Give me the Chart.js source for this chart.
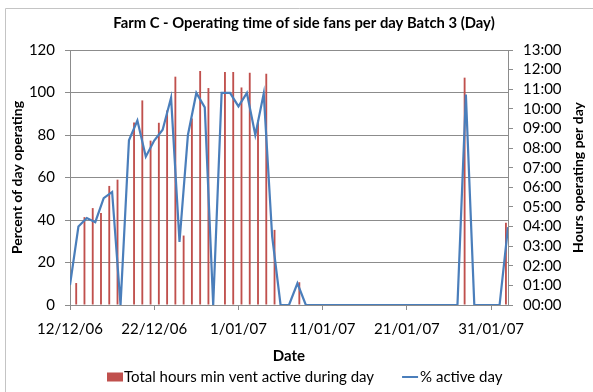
<!DOCTYPE html>
<html>
<head>
<meta charset="utf-8">
<script src="https://cdn.jsdelivr.net/npm/chart.js@4.4.1/dist/chart.umd.min.js"></script>
<style>
  html, body { margin: 0; padding: 0; background: #fff; }
  #wrap { width: 593px; height: 392px; position: relative; }
</style>
</head>
<body>
<div id="wrap"><canvas id="c" width="593" height="392"></canvas></div>
<script>
// Daily records, 12/12/06 to 2/02/07
const dates = [
  '12/12/06','13/12/06','14/12/06','15/12/06','16/12/06','17/12/06','18/12/06','19/12/06','20/12/06','21/12/06',
  '22/12/06','23/12/06','24/12/06','25/12/06','26/12/06','27/12/06','28/12/06','29/12/06','30/12/06','31/12/06',
  '1/01/07','2/01/07','3/01/07','4/01/07','5/01/07','6/01/07','7/01/07','8/01/07','9/01/07','10/01/07',
  '11/01/07','12/01/07','13/01/07','14/01/07','15/01/07','16/01/07','17/01/07','18/01/07','19/01/07','20/01/07',
  '21/01/07','22/01/07','23/01/07','24/01/07','25/01/07','26/01/07','27/01/07','28/01/07','29/01/07','30/01/07',
  '31/01/07','1/02/07','2/02/07'
];

// Total hours the minimum vent ran during the day (hours)
const hoursActive = [
  1.12, 4.48, 4.94, 4.69, 6.07, 6.39, 0, 9.30, 10.43, 8.38,
  9.29, 9.92, 11.64, 3.54, 9.51, 11.93, 11.06, 0, 11.88, 11.88,
  11.09, 11.84, 9.42, 11.79, 3.83, 0, 0, 1.16, 0, 0,
  0, 0, 0, 0, 0, 0, 0, 0.05, 0, 0,
  0, 0, 0, 0, 0, 0, 0, 11.59, 0, 0,
  0, 0, 4.19
];

// Share of the day the fans were active (%)
const pctActive = [
  9.4, 36.9, 40.9, 39.0, 50.3, 53.2, 0, 77.5, 86.8, 69.8,
  77.4, 82.5, 97.5, 29.7, 80.0, 99.8, 93.0, 0, 99.8, 99.8,
  93.5, 99.8, 80.0, 99.5, 32.3, 0, 0, 10.2, 0, 0,
  0, 0, 0, 0, 0, 0, 0, 0, 0, 0,
  0, 0, 0, 0, 0, 0, 0, 99.0, 0, 0,
  0, 0, 36.6
];

// Date axis ticks (day offsets from the first record and their labels)
const tickDays = [0, 10, 20, 30, 40, 50];
const tickLabels = ['12/12/06', '22/12/06', '1/01/07', '11/01/07', '21/01/07', '31/01/07'];

const titleText = 'Farm C - Operating time of side fans per day Batch 3 (Day)';
const barLabel = 'Total hours min vent active during day';
const lineLabel = '% active day';

const GRID = '#8c8c8c';
const BAR = '#C0504D';
const LINE = '#4A7EBB';
const FONT = 'Lato, "Open Sans", sans-serif';

Chart.defaults.font.family = FONT;
Chart.defaults.color = '#000';

const decorations = {
  id: 'decorations',
  afterDraw(chart) {
    const ctx = chart.ctx;
    const area = chart.chartArea;
    ctx.save();

    // chart frame
    ctx.strokeStyle = '#c4c4c4';
    ctx.lineWidth = 1;
    ctx.beginPath();
    ctx.moveTo(5.5, 392);
    ctx.lineTo(5.5, 8.5);
    ctx.lineTo(593, 8.5);
    ctx.stroke();

    ctx.fillStyle = '#000';
    ctx.textBaseline = 'middle';

    // title
    ctx.font = 'bold 14.8px ' + FONT;
    ctx.textAlign = 'center';
    ctx.fillText(titleText, 304, 23);

    // x axis title
    ctx.font = 'bold 15px ' + FONT;
    ctx.fillText('Date', (area.left + area.right) / 2, 356);

    // y axis titles
    ctx.font = 'bold 14px ' + FONT;
    const midY = (area.top + area.bottom) / 2;
    ctx.save();
    ctx.translate(17, midY);
    ctx.rotate(-Math.PI / 2);
    ctx.fillText('Percent of day operating', 0, 0);
    ctx.restore();
    ctx.save();
    ctx.translate(578, midY);
    ctx.rotate(-Math.PI / 2);
    ctx.fillText('Hours operating per day', 0, 0);
    ctx.restore();

    // legend
    ctx.font = '15px ' + FONT;
    ctx.textAlign = 'left';
    const ly = 377;
    let x = 107;
    ctx.fillStyle = BAR;
    ctx.fillRect(x, ly - 4.5, 16, 9);
    ctx.fillStyle = '#000';
    x += 17;
    ctx.fillText(barLabel, x, ly);
    x += ctx.measureText(barLabel).width + 28;
    ctx.strokeStyle = LINE;
    ctx.lineWidth = 2;
    ctx.beginPath();
    ctx.moveTo(x, ly);
    ctx.lineTo(x + 16, ly);
    ctx.stroke();
    x += 18;
    ctx.fillText(lineLabel, x, ly);

    ctx.restore();
  }
};

new Chart(document.getElementById('c'), {
  data: {
    labels: dates,
    datasets: [
      {
        type: 'line',
        label: lineLabel,
        data: pctActive.map((v, i) => ({ x: i, y: v })),
        borderColor: LINE,
        borderWidth: 2.2,
        pointRadius: 0,
        tension: 0,
        fill: false,
        xAxisID: 'x',
        yAxisID: 'y',
        order: 0
      },
      {
        type: 'bar',
        label: barLabel,
        data: hoursActive,
        backgroundColor: BAR,
        barPercentage: 0.45,
        categoryPercentage: 1.0,
        xAxisID: 'xb',
        yAxisID: 'y2',
        order: 1
      }
    ]
  },
  options: {
    responsive: false,
    animation: false,
    layout: { padding: { top: 50, bottom: 0, left: 0, right: 0 } },
    plugins: {
      legend: { display: false },
      title: { display: false },
      tooltip: { enabled: false }
    },
    scales: {
      x: {
        type: 'linear',
        position: 'bottom',
        min: 0,
        max: dates.length - 1,
        afterBuildTicks(scale) {
          scale.ticks = tickDays.map(v => ({ value: v }));
        },
        afterFit(scale) { scale.height = 87; },
        ticks: {
          font: { size: 15 },
          padding: 10,
          maxRotation: 0,
          autoSkip: false,
          callback: (v, i) => tickLabels[i]
        },
        grid: { drawOnChartArea: false, tickLength: 5, color: GRID },
        border: { color: GRID }
      },
      xb: {
        type: 'category',
        display: false,
        offset: true,
        grid: { display: false }
      },
      y: {
        type: 'linear',
        position: 'left',
        min: 0,
        max: 120,
        afterFit(scale) { scale.width = 70; },
        ticks: { stepSize: 20, font: { size: 15 }, padding: 10, autoSkip: false },
        grid: { color: GRID, tickLength: 5 },
        border: { color: GRID }
      },
      y2: {
        type: 'linear',
        position: 'right',
        min: 0,
        max: 13,
        afterFit(scale) { scale.width = 85; },
        ticks: {
          stepSize: 1,
          autoSkip: false,
          font: { size: 15 },
          padding: 10,
          callback: v => (v < 10 ? '0' : '') + v + ':00'
        },
        grid: { drawOnChartArea: false, color: GRID, tickLength: 5 },
        border: { color: GRID }
      }
    }
  },
  plugins: [decorations]
});
</script>
</body>
</html>
